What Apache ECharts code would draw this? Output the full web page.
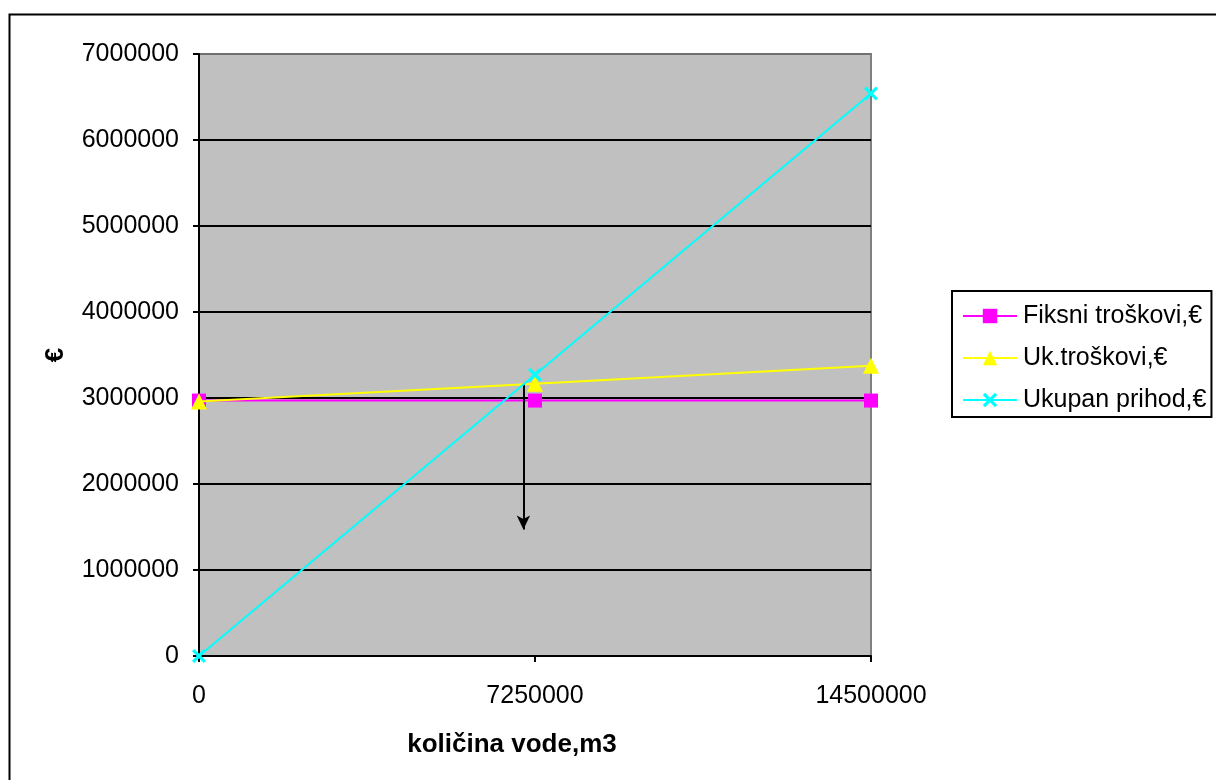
<!DOCTYPE html>
<html>
<head>
<meta charset="utf-8">
<script src="https://cdn.jsdelivr.net/npm/echarts@6/dist/echarts.min.js"></script>
<style>html,body{margin:0;padding:0;background:#fff;}#c{width:1216px;height:780px;}</style>
</head>
<body>
<div id="c"></div>
<script>
var quantities = [0, 7250000, 14500000];
var fixedCosts = [2970000, 2970000, 2970000];
var totalCosts = [2960000, 3165000, 3375000];
var totalRevenue = [0, 3270000, 6540000];
var breakEvenArrow = [[7000000, 3160000], [7000000, 1470000]];
var seriesNames = ['Fiksni troškovi,€', 'Uk.troškovi,€', 'Ukupan prihod,€'];

function pairs(ys) { return quantities.map(function (x, i) { return [x, ys[i]]; }); }
function plain(v) { return String(v); }

var font = 'Liberation Sans, Arial, sans-serif';
var chart = echarts.init(document.getElementById('c'), null, { renderer: 'canvas' });
var crossPath = 'path://M0,1.6L1.6,0L5,3.4L8.4,0L10,1.6L6.6,5L10,8.4L8.4,10L5,6.6L1.6,10L0,8.4L3.4,5Z';

chart.setOption({
  animation: false,
  backgroundColor: '#fff',
  textStyle: { fontFamily: font },
  graphic: [{
    type: 'rect', left: 7, top: 12, z: -10,
    shape: { x: 0, y: 0, width: 1400, height: 1000 },
    style: { fill: 'none', stroke: '#000', lineWidth: 2 }
  }],
  grid: {
    left: 199, right: 345, top: 54, bottom: 124,
    show: true, backgroundColor: '#C0C0C0', borderColor: '#808080', borderWidth: 2
  },
  legend: {
    orient: 'vertical', left: 952, top: 291,
    data: seriesNames,
    itemWidth: 54, itemHeight: 18, itemGap: 12,
    padding: [10, 5, 2, 10],
    borderColor: '#000', borderWidth: 2, backgroundColor: '#fff',
    textStyle: { fontFamily: font, fontSize: 25, color: '#000', lineHeight: 30, padding: [0, 0, 0, 1] }
  },
  xAxis: {
    type: 'value', min: 0, max: 14500000, interval: 7250000,
    name: 'količina vode,m3', nameLocation: 'middle', nameGap: 76,
    nameTextStyle: { fontFamily: font, fontSize: 26, fontWeight: 'bold', color: '#000', padding: [0, 46, 0, 0] },
    axisLine: { show: true, lineStyle: { color: '#000', width: 2 } },
    axisTick: { show: true, length: 6, lineStyle: { color: '#000', width: 2 } },
    axisLabel: { fontFamily: font, fontSize: 25, color: '#000', margin: 28, formatter: plain },
    splitLine: { show: false }
  },
  yAxis: {
    type: 'value', min: 0, max: 7000000, interval: 1000000,
    name: '€', nameLocation: 'middle', nameGap: 130, nameRotate: 90,
    nameTextStyle: { fontFamily: font, fontSize: 26, fontWeight: 'bold', color: '#000' },
    axisLine: { show: true, lineStyle: { color: '#000', width: 2 } },
    axisTick: { show: true, length: 6, lineStyle: { color: '#000', width: 2 } },
    axisLabel: { fontFamily: font, fontSize: 25, color: '#000', margin: 20, formatter: plain },
    splitLine: { show: true, lineStyle: { color: ['#000', '#000', '#000', '#000', '#000', '#000', '#000', '#707070'], width: 2 } }
  },
  series: [
    {
      name: seriesNames[0], type: 'line', data: pairs(fixedCosts),
      symbol: 'rect', symbolSize: 14, showSymbol: true,
      lineStyle: { color: '#FF00FF', width: 2 },
      itemStyle: { color: '#FF00FF' },
      z: 3,
      markLine: {
        silent: true, symbol: ['none', 'arrow'], symbolSize: [10, 14],
        label: { show: false },
        lineStyle: { color: '#000', width: 2, type: 'solid' },
        emphasis: { disabled: true },
        data: [[{ coord: breakEvenArrow[0] }, { coord: breakEvenArrow[1] }]]
      }
    },
    {
      name: seriesNames[1], type: 'line', data: pairs(totalCosts),
      symbol: 'triangle', symbolSize: 16, showSymbol: true,
      lineStyle: { color: '#FFFF00', width: 2 },
      itemStyle: { color: '#FFFF00' },
      z: 4
    },
    {
      name: seriesNames[2], type: 'line', data: pairs(totalRevenue),
      symbol: crossPath, symbolSize: 14, showSymbol: true,
      lineStyle: { color: '#00FFFF', width: 2 },
      itemStyle: { color: '#00FFFF' },
      z: 5
    }
  ]
});
</script>
</body>
</html>
